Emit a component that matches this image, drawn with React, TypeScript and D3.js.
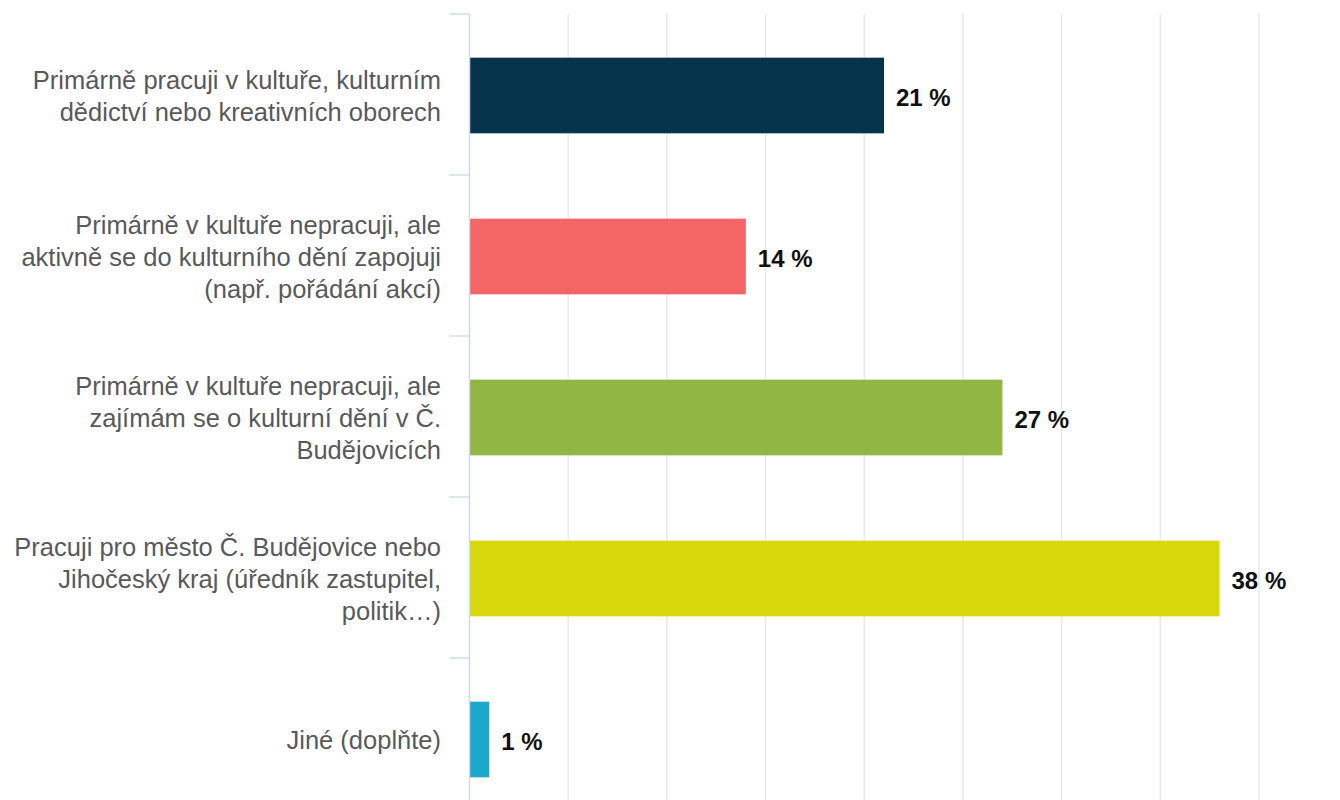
import React from "react";
import * as d3 from "d3";

const categories: string[][] = [
  ["Primárně pracuji v kultuře, kulturním", "dědictví nebo kreativních oborech"],
  ["Primárně v kultuře nepracuji, ale", "aktivně se do kulturního dění zapojuji", "(např. pořádání akcí)"],
  ["Primárně v kultuře nepracuji, ale", "zajímám se o kulturní dění v Č.", "Budějovicích"],
  ["Pracuji pro město Č. Budějovice nebo", "Jihočeský kraj (úředník zastupitel,", "politik…)"],
  ["Jiné (doplňte)"],
];
const values = [21, 14, 27, 38, 1];
const colors = ["#06344a", "#f46666", "#92b644", "#d7d90c", "#1aa9cb"];
const gridTicks = [5, 10, 15, 20, 25, 30, 35, 40];

const W = 1340;
const H = 800;
const axisX = 469.5;
const top = 14;
const bandH = 161;

const App = () => {
  const x = d3.scaleLinear().domain([0, 40]).range([axisX, 1259]);
  const idx = d3.range(values.length).map(String);
  const y = d3
    .scaleBand()
    .domain(idx)
    .range([top, top + bandH * values.length])
    .paddingInner(0.53)
    .paddingOuter(0.265);
  const step = y.step();
  const boundaries = d3.range(values.length + 1).map((i) => top + i * step);
  const font = "'Liberation Sans', Arial, sans-serif";
  const lineH = 32;

  return (
    <svg
      width={W}
      height={H}
      style={{ position: "absolute", left: 0, top: 0, display: "block", background: "#fff" }}
    >
      {gridTicks.map((t) => (
        <line key={t} x1={x(t)} x2={x(t)} y1={top} y2={H} stroke="#e9e9e9" strokeWidth={1.5} />
      ))}
      {values.map((v, i) => (
        <rect
          key={i}
          x={x(0)}
          y={(y(String(i)) as number) + 1}
          width={x(v) - x(0)}
          height={y.bandwidth()}
          fill={colors[i]}
        />
      ))}
      <line x1={axisX} x2={axisX} y1={top} y2={H} stroke="#cfdbea" strokeWidth={1.5} />
      {boundaries.map((b, i) => (
        <line key={i} x1={axisX - 20} x2={axisX} y1={b} y2={b} stroke="#cfdbea" strokeWidth={1.5} />
      ))}
      {categories.map((lines, i) => {
        const cy = (y(String(i)) as number) + y.bandwidth() / 2 + 2;
        const y0 = cy - ((lines.length - 1) * lineH) / 2;
        return (
          <text
            key={i}
            textAnchor="end"
            fontFamily={font}
            fontSize={25.5}
            fill="#595959"
          >
            {lines.map((l, j) => (
              <tspan key={j} x={441} y={y0 + j * lineH} dy="0.35em">
                {l}
              </tspan>
            ))}
          </text>
        );
      })}
      {values.map((v, i) => (
        <text
          key={i}
          x={x(v) + 12}
          y={(y(String(i)) as number) + y.bandwidth() / 2 + 3}
          dy="0.35em"
          fontFamily={font}
          fontSize={24}
          fontWeight="bold"
          fill="#111"
        >
          {v} %
        </text>
      ))}
    </svg>
  );
};

export default App;
